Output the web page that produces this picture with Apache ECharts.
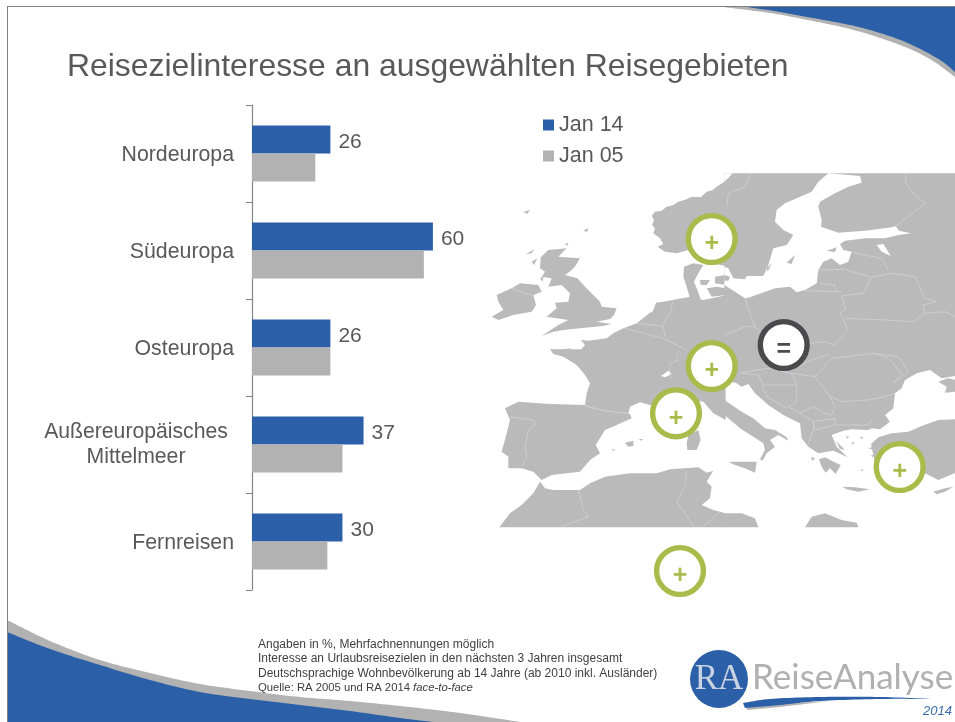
<!DOCTYPE html>
<html><head><meta charset="utf-8">
<style>html,body{margin:0;padding:0;background:#fff}#c{width:955px;height:722px}</style>
<script src="https://cdn.jsdelivr.net/npm/echarts@6/dist/echarts.min.js"></script>
</head><body><div id="c"></div>
<script>
const categories = ['Nordeuropa','Südeuropa','Osteuropa','Außereuropäisches Mittelmeer','Fernreisen'];
const jan14 = [26,60,26,37,30];
const jan05 = [21,57,26,30,25];
const seriesNames = ['Jan 14','Jan 05'];
const titleText = 'Reisezielinteresse an ausgewählten Reisegebieten';
const footnotes = ['Angaben in %, Mehrfachnennungen möglich','Interesse an Urlaubsreisezielen in den nächsten 3 Jahren insgesamt','Deutschsprachige Wohnbevölkerung ab 14 Jahre (ab 2010 inkl. Ausländer)'];

// decorative backdrop geometry (page art, not data): four map tiles, each in its own 3x coordinates
const MAP_TILES = [
 {x:490,y:170,
  land:[
   [[707,33],[680,50],[668,60],[650,65],[632,82],[605,80],[590,88],[565,95],[550,105],[530,110],[515,122],[495,125],[485,138],[492,150],[486,165],[495,175],[490,190],[510,205],[520,222],[503,230],[525,245],[560,250],[595,240],[620,270],[707,288]],
   [[582,290],[610,280],[640,285],[625,310],[612,335],[620,355],[632,388],[600,385],[590,350],[580,320]],
   [[630,330],[660,330],[650,345],[632,345]],[[675,320],[707,315],[707,345],[675,340]],[[650,355],[680,350],[707,355],[707,375],[665,380]],
   [[707,376],[640,390],[600,380],[560,388],[520,395],[498,398],[490,420],[478,430],[465,440],[440,460],[400,475],[370,490],[350,505],[295,512],[272,510],[285,525],[270,542],[707,542]],
   [[195,542],[240,535],[245,542]],
   [[152,262],[175,240],[230,235],[205,260],[270,265],[258,285],[245,300],[225,315],[262,325],[285,350],[300,365],[330,395],[335,410],[380,415],[372,435],[360,447],[320,455],[365,462],[340,468],[315,470],[270,475],[220,480],[190,485],[155,498],[205,465],[235,450],[200,445],[170,440],[200,415],[195,398],[235,395],[240,370],[215,345],[175,350],[185,325],[155,320],[165,305],[150,295]],
   [[20,375],[65,355],[90,340],[145,345],[155,365],[130,375],[138,405],[125,425],[70,435],[25,450],[5,440],[40,420],[25,395]],
   [[108,253],[132,238],[125,250]],[[125,275],[142,265],[132,285]],[[225,222],[235,218],[232,228]],[[100,125],[120,120],[112,132]],[[280,182],[295,174],[292,186]],[[150,325],[160,320],[158,335]]
  ],
  sea:[[[478,418],[492,408],[486,428]]],
  over:[],
  lines:[[[405,475],[460,490],[520,505],[560,525],[590,540]],[[440,460],[490,465],[520,470],[525,500]],[[548,395],[540,430],[515,470]],[[65,355],[105,370],[130,375]]]},
 {x:725,y:170,
  land:[[[-2,10],[692,10],[692,542],[-2,542]]],
  sea:[
   [[-2,10],[22,10],[12,22],[-2,35]],
   [[310,10],[405,18],[410,38],[370,50],[330,70],[285,95],[280,110],[290,150],[288,170],[340,188],[420,182],[500,172],[512,168],[522,182],[558,190],[520,195],[480,205],[420,205],[360,212],[345,222],[355,240],[380,245],[370,275],[345,285],[320,265],[295,275],[280,300],[275,340],[240,360],[215,367],[195,350],[150,355],[75,382],[60,385],[30,365],[-2,345],[-2,290],[10,295],[25,325],[60,328],[65,318],[115,318],[130,285],[145,235],[185,225],[205,195],[175,180],[150,155],[155,120],[180,100],[215,85],[260,65],[280,35]],
   [[455,225],[475,222],[497,258],[470,245]]
  ],
  over:[[[185,278],[210,255],[200,282]],[[305,242],[335,232],[330,246]],[[-2,315],[15,320],[10,332],[-2,332]],[[125,295],[140,280],[128,305]]],
  lines:[[[75,12],[60,50],[10,70],[5,110]],[[545,12],[540,35],[560,65],[600,100],[555,135],[510,170]],[[385,248],[470,265],[490,300]],[[280,300],[360,298],[440,322],[500,310],[570,320]],[[440,322],[415,370],[350,378]],[[240,362],[350,365]],[[285,340],[330,345],[330,362]],[[350,378],[362,420],[345,430],[370,480],[325,525]],[[360,445],[480,450],[565,455],[600,430],[660,425],[692,440]],[[570,320],[600,385],[635,395],[595,405],[600,430]],[[60,385],[75,430],[90,470]],[[0,495],[60,470],[90,470],[110,490]],[[250,520],[300,515],[325,525]]]},
 {x:490,y:350,
  land:[
   [[180,-2],[190,12],[220,20],[260,45],[285,75],[300,100],[290,130],[285,165],[340,182],[415,192],[420,170],[450,157],[490,168],[600,150],[640,155],[670,190],[707,210],[707,-2]],
   [[45,175],[85,155],[180,162],[285,165],[340,182],[420,192],[425,205],[380,225],[345,240],[317,285],[330,310],[300,330],[270,365],[185,375],[155,390],[130,365],[95,355],[55,355],[55,320],[35,305],[50,250],[60,210]],
   [[405,278],[430,272],[430,288],[415,290]],[[447,267],[460,267],[452,272]],[[365,298],[375,298],[370,303]],
   [[590,280],[595,255],[625,240],[632,270],[620,300],[592,300]],
   [[28,532],[60,490],[95,465],[130,430],[150,395],[165,415],[190,420],[270,420],[300,400],[345,380],[420,370],[500,370],[540,358],[625,352],[650,368],[670,362],[650,395],[665,410],[660,445],[635,465],[670,480],[707,490],[707,532]]
  ],
  sea:[[[512,78],[535,62],[545,72],[525,82]]],
  over:[],
  lines:[[[285,168],[340,182],[415,190]],[[55,200],[130,210],[135,225],[115,240],[105,290],[110,320],[95,350]],[[540,85],[540,40],[565,30]],[[565,0],[560,25]],[[265,420],[280,480],[295,500],[215,530]],[[590,365],[585,410],[560,455],[585,490],[610,530]],[[690,485],[640,530]]]},
 {x:725,y:350,
  land:[
   [[-2,-2],[692,-2],[692,78],[650,85],[615,60],[575,70],[540,90],[530,115],[510,130],[505,175],[480,195],[495,215],[465,238],[440,235],[430,240],[380,238],[355,242],[320,255],[335,290],[368,322],[325,302],[280,310],[250,290],[230,265],[225,220],[175,195],[130,165],[90,130],[70,102],[50,110],[35,100],[-2,90]],
   [[-2,150],[50,185],[85,205],[120,235],[150,240],[185,262],[190,272],[160,255],[135,270],[150,290],[125,310],[112,332],[105,328],[120,300],[115,280],[85,260],[45,235],[10,205],[-2,195]],
   [[282,328],[300,322],[335,340],[347,345],[332,372],[315,355],[302,368],[290,350]],
   [[10,335],[60,335],[95,335],[90,368],[60,355],[30,345]],
   [[640,95],[668,85],[692,90],[692,125],[660,128],[665,110]],
   [[692,208],[640,210],[590,228],[550,245],[500,250],[460,262],[438,282],[450,340],[600,370],[640,390],[692,368]],
   [[352,410],[390,412],[435,418],[400,425],[365,418]],
   [[625,425],[660,415],[685,410],[660,425],[635,433]],
   [[-2,490],[50,490],[90,505],[100,532],[-2,532]],
   [[240,532],[260,500],[300,490],[350,510],[395,518],[400,532]],
   [[430,295],[445,290],[450,300]],[[405,260],[415,262],[410,268]],[[362,260],[372,258],[368,266]],[[438,316],[448,314],[444,322]],[[258,320],[270,325],[262,332]],[[405,360],[415,358],[412,364]],[[378,278],[388,276],[384,284]],[[332,272],[360,300],[345,296]]
  ],
  sea:[],
  over:[],
  lines:[[[270,80],[320,25],[445,10],[520,20],[550,65],[505,100]],[[445,10],[490,25],[530,70],[505,100]],[[315,140],[350,155],[430,150],[480,140],[510,130]],[[270,80],[315,140],[330,170],[320,195]],[[45,68],[130,55],[200,70],[270,80]],[[45,68],[100,75],[115,105],[215,105],[200,70]],[[110,105],[125,140],[185,175],[215,155],[215,105]],[[190,170],[225,190],[265,170],[300,190],[320,195]],[[265,215],[330,205],[330,225],[270,240],[265,215]],[[330,225],[370,225],[430,225],[440,208]],[[225,190],[265,215],[265,240],[250,280]],[[200,60],[260,30],[310,15]]]}
];
const RINGS = [[711.7,239,'+'],[711.7,366,'+'],[676,413.3,'+'],[899.7,467,'+'],[680,571,'+'],[783.7,345,'=']];
const SWOOSH_BOTTOM = [[7,620],[50,641],[100,660],[150,673],[200,684],[250,691],[300,697],[350,701],[400,706],[460,713],[520,722]];
const BLUE_BOTTOM = [[7,632],[50,649],[100,665],[150,680],[200,692],[250,699],[300,705],[350,711],[400,718],[433,722]];
const SWOOSH_TOP = [[723,7],[770,13],[813,21],[850,29],[880,38],[910,49],[933,61],[955,77]];
const BLUE_TOP = [[747,7],[780,12],[813,18],[850,25],[880,33],[910,44],[940,60],[955,72]];
const LOGO_SWOOSH = [[743,703],[770,699],[820,697],[880,697],[933,699]];
const LOGO_SWOOSH_LOW = [[933,699],[880,699],[820,701],[780,705],[745,708]];
const LOGO_SHADOW = [[745,707],[780,704],[830,701],[780,707],[748,710]];

function curve(pts){ // Catmull-Rom densifier for the decorative swooshes
  const out=[];
  for(let i=0;i<pts.length-1;i++){
    const p0=pts[Math.max(i-1,0)],p1=pts[i],p2=pts[i+1],p3=pts[Math.min(i+2,pts.length-1)];
    for(let k=0;k<12;k++){const t=k/12,t2=t*t,t3=t2*t;
      out.push([0,1].map(a=>0.5*(2*p1[a]+(p2[a]-p0[a])*t+(2*p0[a]-5*p1[a]+4*p2[a]-p3[a])*t2+(3*p1[a]-p0[a]-3*p2[a]+p3[a])*t3)));}
  }
  out.push(pts[pts.length-1]);return out;
}

const FG = '#595959', F = '"Liberation Sans",Arial,sans-serif', BLUE='#2b5fa8', GREY='#b2b2b2', LANDC='#bababa';
const graphics = [];
const poly=(pts,fill,z)=>({type:'polygon',silent:true,z:z||0,shape:{points:pts},style:{fill}});
graphics.push(poly(curve(SWOOSH_BOTTOM).concat([[7,722]]),GREY));
graphics.push(poly(curve(BLUE_BOTTOM).concat([[7,722]]),BLUE));
graphics.push(poly(curve(SWOOSH_TOP).concat([[955,7]]),GREY));
graphics.push(poly(curve(BLUE_TOP).concat([[955,7]]),BLUE));
graphics.push({type:'line',silent:true,z:1,shape:{x1:7,y1:6.5,x2:955,y2:6.5},style:{stroke:'#808080',lineWidth:1}});
graphics.push({type:'line',silent:true,z:1,shape:{x1:7.5,y1:6,x2:7.5,y2:722},style:{stroke:'#808080',lineWidth:1}});
MAP_TILES.forEach(t=>{
  graphics.push({type:'group',x:t.x,y:t.y,scaleX:1/3,scaleY:1/3,silent:true,children:
    t.land.map(p=>poly(p,LANDC,0)).concat(t.sea.map(p=>poly(p,'#fff',0)),t.over.map(p=>poly(p,LANDC,0)))});
});
MAP_TILES.forEach(t=>{
  graphics.push({type:'group',x:t.x,y:t.y,scaleX:1/3,scaleY:1/3,silent:true,children:
    t.lines.map(p=>({type:'polyline',silent:true,z:1,shape:{points:p},style:{stroke:'#d2d2d2',lineWidth:2.4,fill:null}}))});
});
RINGS.forEach(([x,y,s])=>{
  const col = s==='='?'#4a4a4c':'#a9bb4b';
  graphics.push({type:'circle',silent:true,z:2,shape:{cx:x,cy:y,r:23.4},style:{fill:'#fff',stroke:col,lineWidth:5.4}});
  graphics.push({type:'text',silent:true,z:3,x:x,y:y+5.5,style:{text:s,fill:col,font:'bold 25px '+F,align:'center',verticalAlign:'middle'}});
});
footnotes.forEach((t,i)=>graphics.push({type:'text',silent:true,z:3,x:258,y:[644.5,659,673.5][i],style:{text:t,fill:'#404040',font:'12px '+F,verticalAlign:'middle'}}));
graphics.push({type:'text',silent:true,z:3,x:258,y:688,style:{rich:{i:{font:'italic 11.3px '+F,fill:'#404040'},n:{font:'11.3px '+F,fill:'#404040'}},text:'{n|Quelle: RA 2005 und RA 2014 }{i|face-to-face}',verticalAlign:'middle'}});
graphics.push({type:'circle',silent:true,z:2,shape:{cx:719,cy:679,r:29},style:{fill:BLUE}});
graphics.push({type:'text',silent:true,z:3,x:719,y:680,style:{text:'RA',fill:'#c9d3e2',font:'35px "Liberation Serif",serif',align:'center',verticalAlign:'middle'}});
graphics.push({type:'text',silent:true,z:3,x:752,y:678,style:{text:'ReiseAnalyse',fill:'#b0b0b0',font:'35px Lato,sans-serif',verticalAlign:'middle'}});
graphics.push(poly(LOGO_SHADOW,GREY,3));
graphics.push(poly(curve(LOGO_SWOOSH).concat(curve(LOGO_SWOOSH_LOW)),BLUE,3));
graphics.push({type:'text',silent:true,z:3,x:952,y:711,style:{text:'2014',fill:'#3d6da8',font:'italic 13px '+F,align:'right',verticalAlign:'middle'}});

const chart = echarts.init(document.getElementById('c'),null,{renderer:'canvas'});
chart.setOption({
  animation:false,
  backgroundColor:'#fff',
  title:{text:titleText,left:67,top:51,padding:0,textStyle:{fontFamily:F,fontWeight:'normal',fontSize:31.9,color:FG}},
  legend:{data:seriesNames,orient:'vertical',left:543,top:114,padding:0,itemWidth:11,itemHeight:11,itemGap:9,icon:'rect',selectedMode:false,
    textStyle:{fontFamily:F,fontSize:21.5,color:FG}},
  grid:{left:252,top:105,width:301.5,height:485,containLabel:false},
  xAxis:{type:'value',min:0,max:100,show:false},
  yAxis:{type:'category',data:categories,inverse:true,
    axisLine:{lineStyle:{color:'#868686',width:1.2}},
    axisTick:{show:true,length:6,alignWithLabel:false,lineStyle:{color:'#868686'}},
    axisLabel:{margin:18,interval:0,
      formatter:v=>{
        const p=v==='Außereuropäisches Mittelmeer'?['Außereuropäisches','Mittelmeer']:null;
        return p?p.map(s=>'{w|'+s+'}').join('\n'):'{s|'+v+'}';
      },
      rich:{s:{fontFamily:F,fontSize:21.3,color:FG,padding:[4,0,0,0]},w:{fontFamily:F,fontSize:21.2,color:FG,lineHeight:25,width:184,align:'center',padding:[1,6,0,0]}}}},
  series:[
    {name:seriesNames[0],type:'bar',data:jan14,barWidth:28,barGap:0,z:5,itemStyle:{color:BLUE},
      label:{show:true,position:'right',distance:8,offset:[0,2.5],fontFamily:F,fontSize:21,color:FG}},
    {name:seriesNames[1],type:'bar',data:jan05,barWidth:28,barGap:0,z:5,itemStyle:{color:GREY}}
  ],
  graphic:graphics
});
</script></body></html>
